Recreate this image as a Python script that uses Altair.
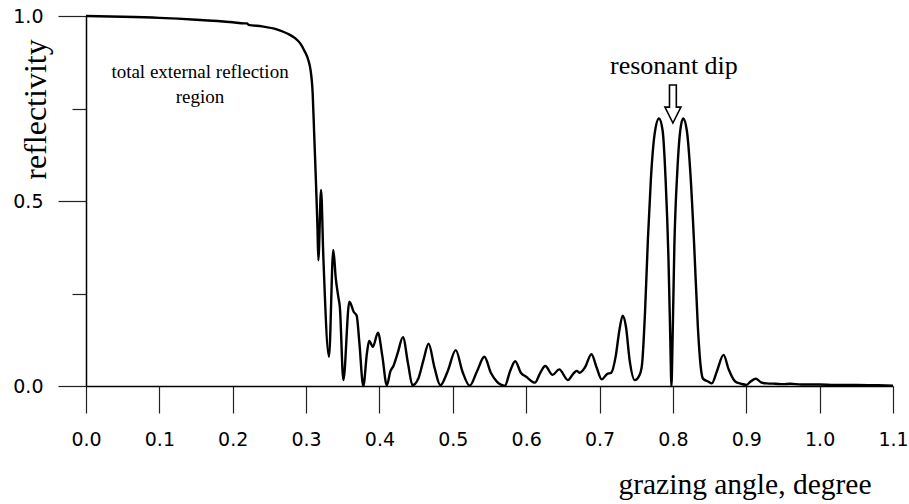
import altair as alt
import pandas as pd

# grazing angle (degree) and reflectivity
angle = [0.000, 0.050, 0.100, 0.150, 0.200, 0.2155, 0.2195, 0.2215, 0.240, 0.260,
         0.275, 0.285, 0.292, 0.298, 0.303, 0.306, 0.309, 0.311, 0.3135, 0.3155,
         0.3167, 0.3204, 0.3235, 0.3312, 0.3371, 0.3405, 0.344, 0.346, 0.3508, 0.359,
         0.365, 0.369, 0.3725, 0.378, 0.383, 0.386, 0.391, 0.398, 0.404, 0.410,
         0.415, 0.419, 0.425, 0.432, 0.439, 0.445, 0.453, 0.460, 0.467, 0.475,
         0.483, 0.493, 0.504, 0.513, 0.523, 0.533, 0.543, 0.552, 0.560, 0.571,
         0.578, 0.585, 0.593, 0.600, 0.612, 0.619, 0.626, 0.636, 0.645, 0.657,
         0.664, 0.669, 0.673, 0.680, 0.689, 0.696, 0.703, 0.710, 0.716, 0.722,
         0.727, 0.7315, 0.736, 0.741, 0.748, 0.755, 0.758, 0.762, 0.766, 0.770,
         0.775, 0.781, 0.786, 0.790, 0.794, 0.7965, 0.798, 0.7995, 0.802, 0.806,
         0.810, 0.814, 0.819, 0.824, 0.829, 0.834, 0.838, 0.841, 0.848, 0.853,
         0.860, 0.869, 0.876, 0.885, 0.893, 0.900, 0.906, 0.913, 0.920, 0.928,
         0.940, 0.950, 0.960, 0.975, 1.000, 1.020, 1.050, 1.080, 1.100]
reflectivity = [1.000, 0.998, 0.995, 0.990, 0.983, 0.980, 0.980, 0.976, 0.972, 0.964,
                0.952, 0.940, 0.926, 0.905, 0.881, 0.855, 0.790, 0.683, 0.548, 0.430,
                0.340, 0.530, 0.350, 0.079, 0.368, 0.290, 0.240, 0.214, 0.016, 0.228,
                0.200, 0.190, 0.120, 0.000, 0.090, 0.122, 0.106, 0.144, 0.080, 0.002,
                0.040, 0.054, 0.090, 0.132, 0.060, 0.002, 0.020, 0.070, 0.114, 0.050,
                0.002, 0.040, 0.097, 0.040, 0.001, 0.040, 0.079, 0.035, 0.012, 0.001,
                0.040, 0.067, 0.035, 0.025, 0.009, 0.035, 0.054, 0.030, 0.045, 0.016,
                0.033, 0.041, 0.036, 0.050, 0.086, 0.050, 0.018, 0.032, 0.036, 0.080,
                0.150, 0.190, 0.160, 0.070, 0.016, 0.032, 0.060, 0.200, 0.400, 0.560,
                0.680, 0.723, 0.690, 0.560, 0.340, 0.120, 0.000, 0.120, 0.380, 0.580,
                0.690, 0.723, 0.690, 0.570, 0.380, 0.160, 0.050, 0.020, 0.012, 0.007,
                0.040, 0.084, 0.045, 0.012, 0.006, 0.003, 0.012, 0.020, 0.010, 0.007,
                0.006, 0.005, 0.006, 0.004, 0.004, 0.003, 0.003, 0.002, 0.001]

x_ticks = [0.0, 0.05, 0.1, 0.15, 0.2, 0.25, 0.3, 0.35, 0.4, 0.45, 0.5, 0.55,
           0.6, 0.65, 0.7, 0.75, 0.8, 0.85, 0.9, 0.95, 1.0, 1.05, 1.1]
y_ticks = [0.0, 0.25, 0.5, 0.75, 1.0]

note_text = ["total external reflection", "region"]
note_x = [0.1554, 0.1554]
note_y = [0.849, 0.781]

dip_text = ["resonant dip"]
dip_text_x = [0.8885]
dip_text_y = [0.866]
dip_arrow_x = [0.8]
dip_arrow_y = [0.762]

df = pd.DataFrame({"angle": angle, "R": reflectivity})
notes = pd.DataFrame({"x": note_x, "y": note_y, "t": note_text})
dip_lab = pd.DataFrame({"x": dip_text_x, "y": dip_text_y, "t": dip_text})
arrow = pd.DataFrame({"x": dip_arrow_x, "y": dip_arrow_y})

xs = alt.Scale(domain=[0, 1.1], nice=False, zero=False)
ys = alt.Scale(domain=[0, 1], nice=False)

SANS = "DejaVu Sans"
SERIF = "Liberation Serif"

X_MAJOR = "abs(round(datum.value*10) - datum.value*10) < 0.01"
Y_MAJOR = "abs(round(datum.value*2) - datum.value*2) < 0.01"

curve = alt.Chart(df).mark_line(color="black", strokeWidth=2.4, interpolate="monotone").encode(
    x=alt.X("angle:Q", scale=xs, axis=alt.Axis(
        values=x_ticks,
        labelExpr=f"{X_MAJOR} ? format(datum.value, '.1f') : ''",
        tickSize={"condition": {"test": X_MAJOR, "value": 27}, "value": 14},
        tickColor="#222", tickWidth=1.2,
        domainColor="black", domainWidth=1.5, labelFont=SANS, labelFontSize=19,
        labelColor="black", labelPadding=17, labelFlush=False, labelOverlap=False,
        grid=False,
        title="grazing angle, degree", titleFont=SERIF, titleFontSize=29.5,
        titleFontWeight="normal", titleColor="black", titleAlign="right",
        titleX=785, titleY=107, titleBaseline="alphabetic")),
    y=alt.Y("R:Q", scale=ys, axis=alt.Axis(
        values=y_ticks,
        labelExpr=f"{Y_MAJOR} ? format(datum.value, '.1f') : ''",
        tickSize={"condition": {"test": Y_MAJOR, "value": 28}, "value": 14},
        tickColor="#222", tickWidth=1.2,
        domainColor="black", domainWidth=1.5, labelFont=SANS, labelFontSize=19,
        labelColor="black", labelPadding=15, labelFlush=False, labelOverlap=False,
        grid=False,
        title="reflectivity", titleFont=SERIF, titleFontSize=32,
        titleFontWeight="normal", titleColor="black", titleAngle=-90,
        titleAlign="center", titleX=-41, titleY=93, titleBaseline="alphabetic")),
)

note = alt.Chart(notes).mark_text(font=SERIF, fontSize=19, color="black",
                                  align="center", baseline="middle").encode(
    x=alt.X("x:Q", scale=xs), y=alt.Y("y:Q", scale=ys), text="t:N")

dip = alt.Chart(dip_lab).mark_text(font=SERIF, fontSize=26, color="black",
                                   align="right", baseline="middle").encode(
    x=alt.X("x:Q", scale=xs), y=alt.Y("y:Q", scale=ys), text="t:N")

arrow_path = "M-0.18,-1 L0.18,-1 L0.18,0.16 L0.42,0.16 L0,1 L-0.42,0.16 L-0.18,0.16 Z"
arr = alt.Chart(arrow).mark_point(shape=arrow_path, size=1444, fill="white", filled=True,
                                  stroke="black", strokeWidth=1.6, opacity=1).encode(
    x=alt.X("x:Q", scale=xs), y=alt.Y("y:Q", scale=ys))

chart = alt.layer(curve, note, dip, arr).properties(
    width=807, height=370,
    autosize=alt.AutoSizeParams(type="none"),
    padding={"left": 86, "top": 16, "right": 16, "bottom": 118},
    background="white",
).configure_view(stroke=None)

chart.save("out.html", embed_options={"renderer": "svg", "actions": False})
